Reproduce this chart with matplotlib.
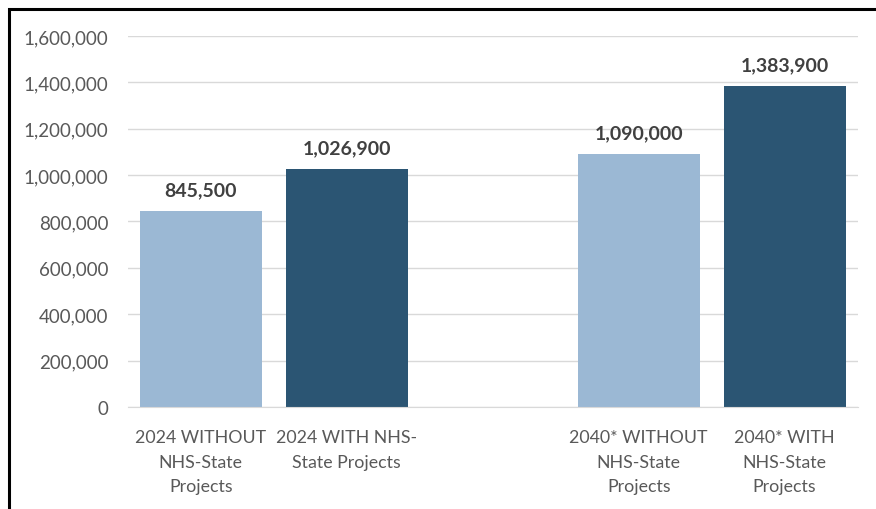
import matplotlib.pyplot as plt
from matplotlib.patches import Rectangle
from matplotlib.ticker import FuncFormatter

plt.rcParams['font.family'] = ['Lato', 'DejaVu Sans']

categories = ['2024 WITHOUT\nNHS-State\nProjects', '2024 WITH NHS-\nState Projects', '',
              '2040* WITHOUT\nNHS-State\nProjects', '2040* WITH\nNHS-State\nProjects']
values = [845500, 1026900, 0, 1090000, 1383900]
colors = ['#9bb8d4', '#2b5573', 'white', '#9bb8d4', '#2b5573']
yticks = [0, 200000, 400000, 600000, 800000, 1000000, 1200000, 1400000, 1600000]

fig = plt.figure(figsize=(8.76, 5.10), dpi=100)
ax = fig.add_axes([0.146, 0.2, 0.833, 0.7275])

x = range(len(categories))
bars = ax.bar(x, values, width=0.835, color=colors, zorder=3)

for i, b in enumerate(bars):
    if values[i] == 0:
        continue
    ax.annotate(f'{values[i]:,}', (b.get_x() + b.get_width() / 2, values[i]),
                xytext=(0, 9), textcoords='offset points', ha='center', va='bottom',
                fontsize=14, fontweight='bold', color='#404040')

ax.set_xlim(-0.5, 4.5)
ax.set_ylim(0, 1600000)
ax.set_yticks(yticks)
ax.yaxis.set_major_formatter(FuncFormatter(lambda v, p: f'{int(v):,}'))
ax.set_xticks(list(x))
ax.set_xticklabels(categories, linespacing=1.65, fontsize=12.8)
ax.tick_params(axis='both', length=0, labelcolor='#595959')
ax.tick_params(axis='y', pad=14, labelsize=13.5)
ax.tick_params(axis='x', pad=16)
ax.grid(axis='y', color='#d9d9d9', linewidth=1, zorder=0)

for s in ['top', 'right', 'left']:
    ax.spines[s].set_visible(False)
ax.spines['bottom'].set_color('#d9d9d9')
ax.spines['bottom'].set_zorder(4)

# black outer frame (cut off at right and bottom)
fig.patches.append(Rectangle((8.5 / 876, -0.1), 1.2, 1.1 - 9.5 / 510, transform=fig.transFigure,
                             fill=False, edgecolor='black', linewidth=2.2))

fig.savefig('out.png', dpi=100)
